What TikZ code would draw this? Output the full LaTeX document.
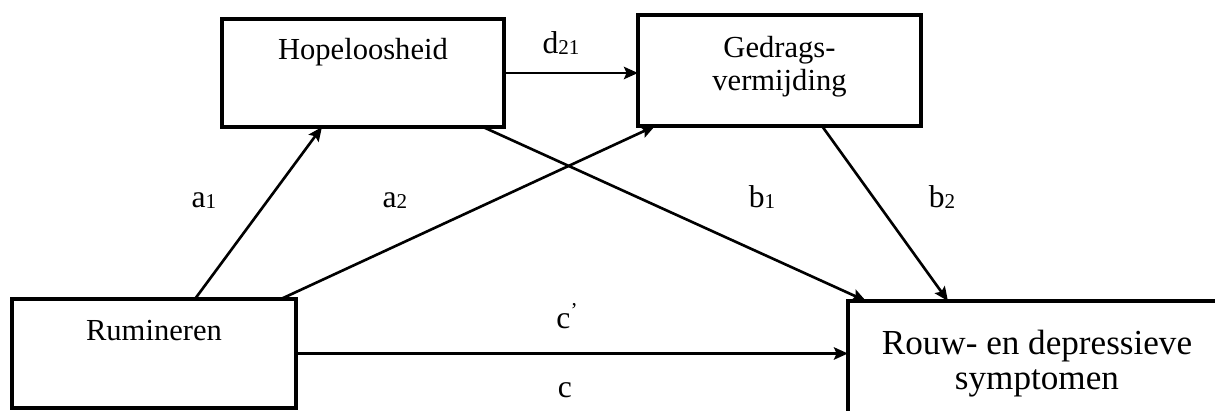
\documentclass[tikz,border=0pt]{standalone}
\usepackage{fontspec}
\setmainfont{Liberation Serif}
\usetikzlibrary{arrows.meta}
\newcommand{\lsub}[1]{{\fontsize{12}{12}\selectfont\raisebox{-1pt}{#1}}}
\begin{document}
\begin{tikzpicture}[x=0.02cm, y=-0.02cm, line width=1.5pt, >={Stealth[length=8pt, width=7pt, inset=1.5pt]},
    main/.style = {draw, line width=1.8pt, anchor=north west, outer sep=0pt, inner ysep=0pt, align=center, font=\fontsize{17.4}{19.3}\selectfont},
    lbl/.style = {anchor=base, inner sep=0pt, font=\fontsize{18}{18}\selectfont}]
    \useasboundingbox (0,0) rectangle (1215,410);
    \node[main, minimum width=5.68cm, text height=0.84cm, text depth=1.34cm] (1) at (12,299) {Rumineren};
    \node[main, minimum width=5.64cm, text height=0.82cm, text depth=1.34cm] (2) at (222,19) {Hopeloosheid};
    \node[main, minimum width=5.66cm, text height=1.52cm, text depth=0.70cm] (3) at (638,15) {Gedrags-\\vermijding};
    \node[main, minimum width=7.56cm, text height=1.78cm, text depth=0.80cm, font=\fontsize{20}{20}\selectfont] (4) at (848,301) {Rouw- en depressieve\\symptomen};
    %Paths
    \draw[->] ([xshift=3.66cm]1.north west) to ([xshift=2cm]2.south west);
    \draw[->] ([xshift=5.38cm]1.north west) to ([xshift=0.34cm]3.south west);
    \draw[->] (2.east) to (2.east -| 3.west);
    \draw[->] ([xshift=5.22cm]2.south west) to ([xshift=0.36cm]4.north west);
    \draw[->] ([xshift=3.68cm]3.south west) to ([xshift=2cm]4.north west);
    \draw[->] (1.east) to (1.east -| 4.west);
    %Labels
    \node[lbl] (a1) at (204,207) {a\lsub{1}};
    \node[lbl] (a2) at (395,207) {a\lsub{2}};
    \node[lbl] (d21) at (561,53) {d\lsub{21}};
    \node[lbl] (b1) at (762,207) {b\lsub{1}};
    \node[lbl] (b2) at (942,207) {b\lsub{2}};
    \node[lbl] (cp) at (567,328) {c{\fontsize{12}{12}\selectfont\raisebox{6pt}{’}}};
    \node[lbl] (c) at (565,397) {c};
\end{tikzpicture}
\end{document}
